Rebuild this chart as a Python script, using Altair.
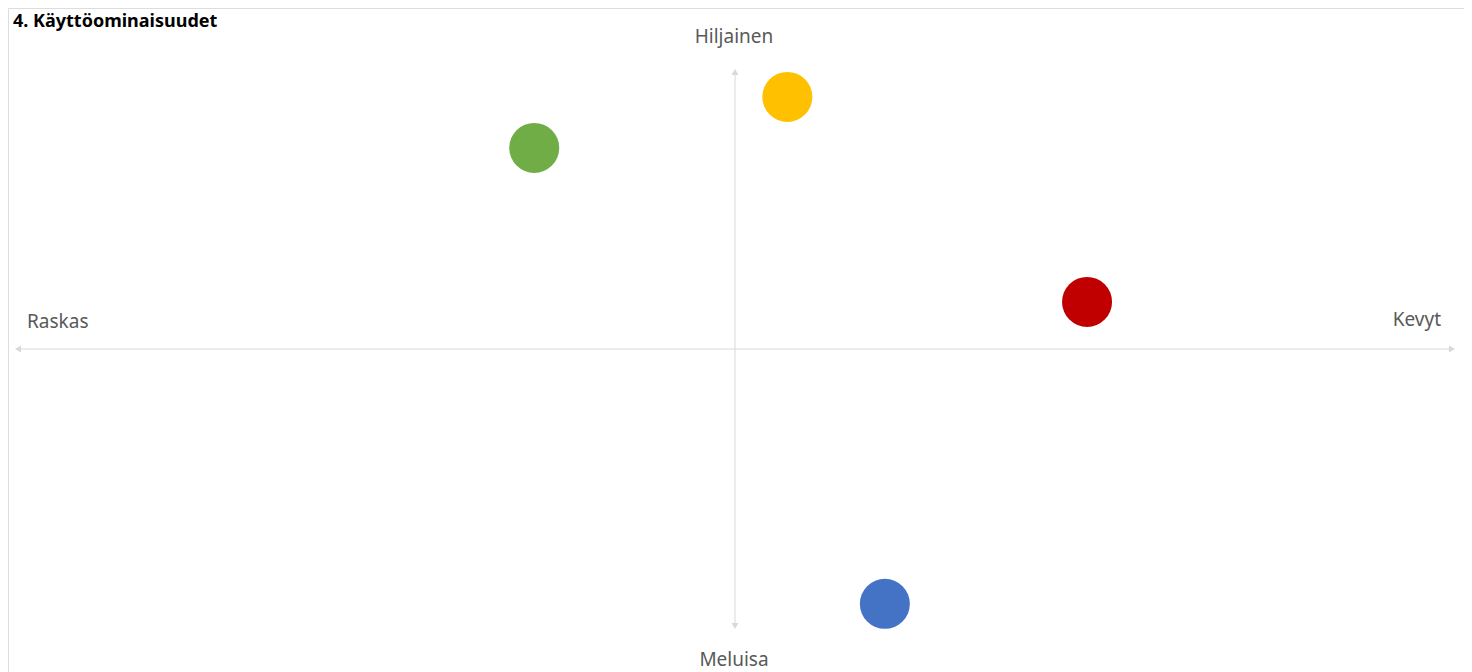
import altair as alt
import pandas as pd

# Data
names = ["Vihreä", "Keltainen", "Punainen", "Sininen"]
x_vals = [-2.80, 0.73, 4.91, 2.09]
y_vals = [7.26, 9.10, 1.70, -9.20]
colors = ["#70ad47", "#ffc000", "#c00000", "#4472c4"]

axis_label_text = ["Hiljainen", "Meluisa", "Raskas", "Kevyt"]
title_text = "4. Käyttöominaisuudet"

W, H = 1456, 664
FONT = "Noto Sans"
GRAY = "#d9d9d9"
LABEL_COLOR = "#595959"

xs = alt.Scale(domain=[-10, 10], range=[10, 1444])
ys = alt.Scale(domain=[-10, 10], range=[618, 64])
noaxis = None

pts = pd.DataFrame({"name": names, "x": x_vals, "y": y_vals, "color": colors})

# axis lines
hline = pd.DataFrame({"x": [-10], "x2": [10], "y": [0]})
vline = pd.DataFrame({"y": [-10], "y2": [10], "x": [0]})

h_rule = alt.Chart(hline).mark_rule(color=GRAY, strokeWidth=1).encode(
    x=alt.X("x:Q", scale=xs, axis=noaxis), x2="x2:Q",
    y=alt.Y("y:Q", scale=ys, axis=noaxis))
v_rule = alt.Chart(vline).mark_rule(color=GRAY, strokeWidth=1).encode(
    y=alt.Y("y:Q", scale=ys, axis=noaxis), y2="y2:Q",
    x=alt.X("x:Q", scale=xs, axis=noaxis))

heads = pd.DataFrame({
    "x": [-10, 10, 0, 0],
    "y": [0, 0, 10, -10],
    "shape": ["triangle-left", "triangle-right", "triangle-up", "triangle-down"],
})
arrow_heads = alt.Chart(heads).mark_point(filled=True, size=50, color=GRAY, opacity=1).encode(
    x=alt.X("x:Q", scale=xs, axis=noaxis),
    y=alt.Y("y:Q", scale=ys, axis=noaxis),
    shape=alt.Shape("shape:N", scale=None, legend=None))

circles = alt.Chart(pts).mark_circle(size=2500, opacity=1).encode(
    x=alt.X("x:Q", scale=xs, axis=noaxis),
    y=alt.Y("y:Q", scale=ys, axis=noaxis),
    color=alt.Color("color:N", scale=None, legend=None))

def label(text, x, y, align, size=19, weight="normal", color=LABEL_COLOR):
    return alt.Chart(pd.DataFrame({"t": [text]})).mark_text(
        font=FONT, fontSize=size, fontWeight=weight, color=color,
        align=align, baseline="middle").encode(
        text="t:N", x=alt.value(x), y=alt.value(y))

top_lab = label(axis_label_text[0], 726, 29, "center")
bot_lab = label(axis_label_text[1], 726, 652, "center")
left_lab = label(axis_label_text[2], 19, 314, "left")
right_lab = label(axis_label_text[3], 1433, 312, "right")
title = label(title_text, 5, 14, "left", size=18, weight="bold", color="#000000")

chart = alt.layer(h_rule, v_rule, arrow_heads, circles, top_lab, bot_lab, left_lab, right_lab, title).properties(
    width=W, height=H, padding=0, autosize=alt.AutoSizeParams(type="none")
).configure_view(stroke="#a6a6a6", strokeWidth=2).configure(background="white")

chart.save("out.html", embed_options={"renderer": "svg", "actions": False})
